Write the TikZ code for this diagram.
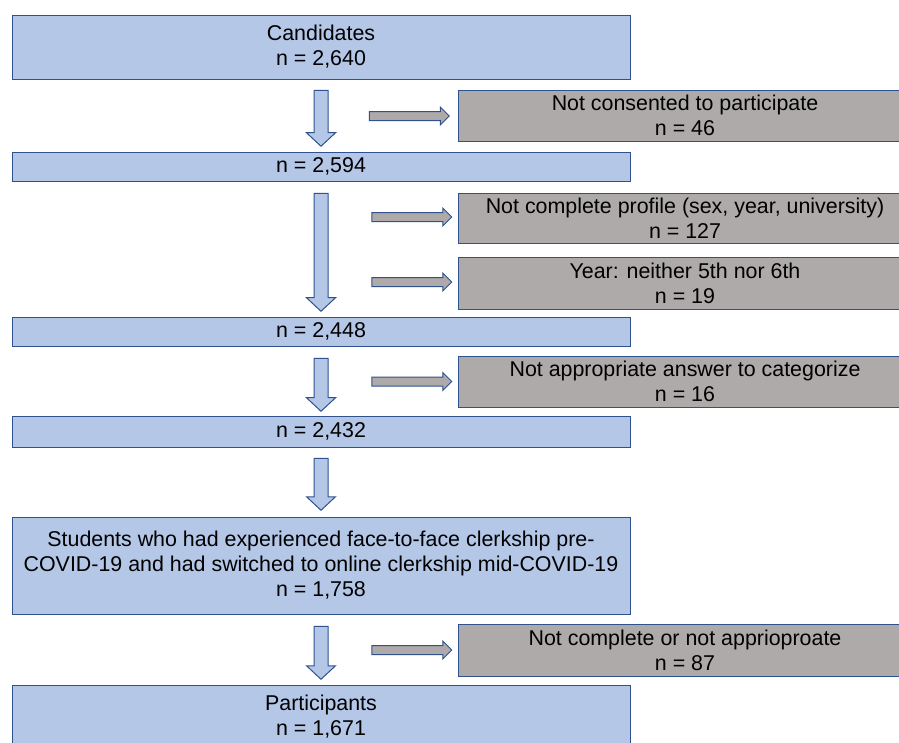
\documentclass[tikz,border=0pt]{standalone}
\usepackage{fontspec}
\setmainfont{Liberation Sans}
\usetikzlibrary{shapes.arrows}
\definecolor{boxblue}{HTML}{B4C7E7}
\definecolor{boxgrey}{HTML}{AEAAAA}
\definecolor{edgeblue}{HTML}{2F528F}
\tikzset{
  bluebox/.style={shape=rectangle,draw=edgeblue,fill=boxblue,line width=1pt,
    minimum width=618pt,align=center,inner sep=0pt,
    font=\fontsize{21.4}{25}\selectfont},
  greybox/.style={shape=rectangle,draw=edgeblue,fill=boxgrey,line width=1pt,
    minimum width=454pt,align=center,inner sep=0pt,
    font=\fontsize{21.4}{25}\selectfont},
  downarrow/.style={shape=single arrow,draw=edgeblue,fill=boxblue,line width=1pt,
    shape border rotate=270,inner sep=6.5pt,minimum width=28pt,
    single arrow head extend=7.5pt,single arrow tip angle=94},
  sidearrow/.style={shape=single arrow,draw=edgeblue,fill=boxgrey,line width=1pt,
    inner sep=4pt,minimum width=17pt,minimum height=80pt,
    single arrow head extend=4.5pt,single arrow tip angle=90}
}
\begin{document}
\begin{tikzpicture}[x=1pt,y=-1pt]
      \useasboundingbox (0,0) rectangle (899,742);
      \begin{scope}
        \clip (0,0) rectangle (899,742);
      \path
        (321,47) node[bluebox,minimum height=64pt] (cand){Candidates\\n = 2,640}
        (321,166.5) node[bluebox,minimum height=29pt] (s1){n = 2,594}
        (321,331.5) node[bluebox,minimum height=29pt] (s2){n = 2,448}
        (321,431.5) node[bluebox,minimum height=31pt] (s3){n = 2,432}
        (321,565.5) node[bluebox,minimum height=97pt] (stud){Students who had experienced face-to-face clerkship pre-\\COVID-19 and had switched to online clerkship mid-COVID-19\\n = 1,758}
        (321,717) node[bluebox,minimum height=64pt] (part){Participants\\n = 1,671};
      \path
        (685,115.5) node[greybox,minimum height=51pt] (ex1){Not consented to participate\\n = 46}
        (685,218) node[greybox,minimum height=50pt] (ex2){Not complete profile (sex, year, university)\\n = 127}
        (685,283) node[greybox,minimum height=52pt] (ex3){Year: neither 5th nor 6th\\n = 19}
        (685,381.5) node[greybox,minimum height=51pt] (ex4){Not appropriate answer to categorize\\n = 16}
        (685,650) node[greybox,minimum height=52pt] (ex5){Not complete or not apprioproate\\n = 87};
      % flow arrows
      \path
        (321,115) node[downarrow,minimum height=56pt] (d1){}
        (321,249) node[downarrow,minimum height=118pt] (d2){}
        (321,381.5) node[downarrow,minimum height=53pt] (d3){}
        (321,481) node[downarrow,minimum height=52pt] (d4){}
        (321,649.5) node[downarrow,minimum height=53pt] (d5){};
      \path
        (407,116) node[sidearrow] (r1){}
        (409.5,217) node[sidearrow] (r2){}
        (409.5,282) node[sidearrow] (r3){}
        (409.5,381.5) node[sidearrow] (r4){}
        (409.5,650) node[sidearrow] (r5){};
      \end{scope}
    \end{tikzpicture}
\end{document}
